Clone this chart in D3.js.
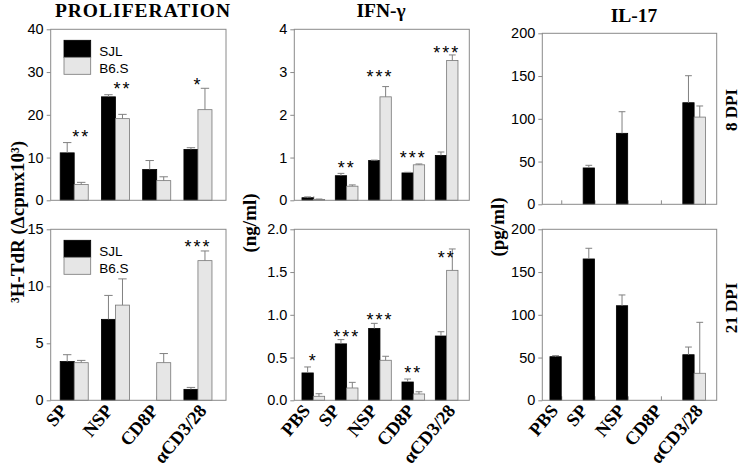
<!DOCTYPE html>
<html><head><meta charset="utf-8">
<script src="https://cdn.jsdelivr.net/npm/d3@7"></script>
<style>body{margin:0;background:#fff} svg{display:block}</style>
</head><body><svg id="c" width="742" height="471"></svg>
<script>
// ---------- data ----------
const seriesNames = ["SJL", "B6.S"];
const prolifCats = ["SP", "NSP", "CD8P", "αCD3/28"];
const cytoCats = ["PBS", "SP", "NSP", "CD8P", "αCD3/28"];

// Proliferation (Δcpm x10^3)
const prolif8SJL = [11.1, 24.2, 7.2, 11.9];
const prolif8SJLErr = [2.4, 0.5, 2.1, 0.4];
const prolif8B6S = [3.7, 19.1, 4.6, 21.2];
const prolif8B6SErr = [0.5, 1.0, 0.9, 5.0];
const prolif21SJL = [3.4, 7.1, null, 0.96];
const prolif21SJLErr = [0.6, 2.1, 0, 0.17];
const prolif21B6S = [3.3, 8.35, 3.3, 12.25];
const prolif21B6SErr = [0.2, 2.3, 0.8, 0.85];

// IFN-gamma (ng/ml)
const ifn8SJL = [0.06, 0.575, 0.93, 0.64, 1.05];
const ifn8SJLErr = [0.02, 0.055, 0.01, 0.015, 0.08];
const ifn8B6S = [0.02, 0.33, 2.42, 0.83, 3.27];
const ifn8B6SErr = [0.01, 0.03, 0.24, 0.02, 0.13];
const ifn21SJL = [0.32, 0.66, 0.84, 0.214, 0.752];
const ifn21SJLErr = [0.07, 0.05, 0.06, 0.035, 0.05];
const ifn21B6S = [0.047, 0.144, 0.468, 0.074, 1.52];
const ifn21B6SErr = [0.03, 0.066, 0.047, 0.026, 0.25];

// IL-17 (pg/ml)
const il17d8SJL = [null, 42.5, 83, null, 118.8];
const il17d8SJLErr = [0, 3.1, 25.3, 0, 31.6];
const il17d8B6S = [null, null, null, null, 102];
const il17d8B6SErr = [0, 0, 0, 0, 13];
const il17d21SJL = [51, 165.3, 110.6, null, 53.3];
const il17d21SJLErr = [1.2, 12.5, 12.6, 0, 9];
const il17d21B6S = [null, null, null, null, 31.6];
const il17d21B6SErr = [0, 0, 0, 0, 59.6];

// tick values
const prolif8Ticks = [0, 10, 20, 30, 40];
const prolif21Ticks = [0, 5, 10, 15];
const ifn8Ticks = [0, 1, 2, 3, 4];
const ifn21Ticks = [0, 0.5, 1.0, 1.5, 2.0];
const il17Ticks = [0, 50, 100, 150, 200];

// significance stars (level = data value of the star baseline)
const prolif8Stars = [
  {cat: "SP", label: "**", level: 13.4, over: "B6.S"},
  {cat: "NSP", label: "**", level: 24.6, over: "B6.S"},
  {cat: "αCD3/28", label: "*", level: 25.6, over: "pair"}];
const prolif21Stars = [{cat: "αCD3/28", label: "***", level: 12.9, over: "pair"}];
const ifn8Stars = [
  {cat: "SP", label: "**", level: 0.615, over: "pair"},
  {cat: "NSP", label: "***", level: 2.74, over: "pair"},
  {cat: "CD8P", label: "***", level: 0.85, over: "pair"},
  {cat: "αCD3/28", label: "***", level: 3.30, over: "pair"}];
const ifn21Stars = [
  {cat: "PBS", label: "*", level: 0.393, over: "pair"},
  {cat: "SP", label: "***", level: 0.674, over: "pair"},
  {cat: "NSP", label: "***", level: 0.869, over: "pair"},
  {cat: "CD8P", label: "**", level: 0.253, over: "pair"},
  {cat: "αCD3/28", label: "**", level: 1.60, over: "pair"}];

// ---------- drawing ----------
const svg = d3.select("#c");
const SERIF = "'Times New Roman','Liberation Serif',serif";
const SANS = "Arial,'Liberation Sans',sans-serif";
const FRAME = "#8a8a8a";
const GREYFILL = "#e6e6e6";
const ANG = 50 * Math.PI / 180;

const panels = [
  {cats: prolifCats, s: [prolif8SJL, prolif8B6S], e: [prolif8SJLErr, prolif8B6SErr], ticks: prolif8Ticks, fmt: d3.format("d"), stars: prolif8Stars, legend: true, box: [50.7, 226, 29.3, 200.3], xlabels: false},
  {cats: cytoCats, s: [ifn8SJL, ifn8B6S], e: [ifn8SJLErr, ifn8B6SErr], ticks: ifn8Ticks, fmt: d3.format("d"), stars: ifn8Stars, legend: false, box: [294.3, 469.3, 29.3, 200.3], xlabels: false},
  {cats: cytoCats, s: [il17d8SJL, il17d8B6S], e: [il17d8SJLErr, il17d8B6SErr], ticks: il17Ticks, fmt: d3.format("d"), stars: [], legend: false, box: [542.3, 716.7, 33.3, 204.3], xlabels: false},
  {cats: prolifCats, s: [prolif21SJL, prolif21B6S], e: [prolif21SJLErr, prolif21B6SErr], ticks: prolif21Ticks, fmt: d3.format("d"), stars: prolif21Stars, legend: true, box: [50.7, 226, 229.3, 400.3], xlabels: true},
  {cats: cytoCats, s: [ifn21SJL, ifn21B6S], e: [ifn21SJLErr, ifn21B6SErr], ticks: ifn21Ticks, fmt: d3.format(".1f"), stars: ifn21Stars, legend: false, box: [294.3, 469.3, 229.3, 400.3], xlabels: true},
  {cats: cytoCats, s: [il17d21SJL, il17d21B6S], e: [il17d21SJLErr, il17d21B6SErr], ticks: il17Ticks, fmt: d3.format("d"), stars: [], legend: false, box: [542.3, 716.7, 229.3, 400.3], xlabels: true}
];

panels.forEach(p => {
  const [x0, x1, y0, y1] = p.box;
  const n = p.cats.length;
  const x = d3.scaleLinear().domain([-0.57, n - 1 + 0.68]).range([x0, x1]);
  const y = d3.scaleLinear().domain([0, p.ticks[p.ticks.length - 1]]).range([y1, y0]);
  const bw = (x(1) - x(0)) * 0.34;
  const g = svg.append("g");

  // y axis
  const ya = g.append("g").attr("transform", `translate(${x0},0)`)
    .call(d3.axisLeft(y).tickValues(p.ticks).tickSize(4).tickPadding(3).tickFormat(p.fmt));
  ya.select(".domain").remove();
  ya.selectAll("line").attr("stroke", FRAME);
  ya.selectAll("text").attr("font-family", SANS).attr("font-size", 14.5).attr("fill", "#000");

  // x axis (inward ticks at category centres)
  const xa = g.append("g").attr("transform", `translate(0,${y1})`)
    .call(d3.axisBottom(x).tickValues(d3.range(n)).tickSize(-4).tickFormat(""));
  xa.select(".domain").remove();
  xa.selectAll("line").attr("stroke", FRAME);

  // bars
  const rows = [];
  p.cats.forEach((c, i) => {
    [0, 1].forEach(k => {
      const v = p.s[k][i];
      if (v !== null && v !== undefined) rows.push({i, k, v, err: p.e[k][i]});
    });
  });
  g.selectAll("rect.bar").data(rows).join("rect")
    .attr("x", d => d.k === 0 ? x(d.i) - bw : x(d.i))
    .attr("y", d => y(d.v))
    .attr("width", bw)
    .attr("height", d => y(0) - y(d.v))
    .attr("fill", d => d.k === 0 ? "#000" : GREYFILL)
    .attr("stroke", d => d.k === 0 ? "#000" : "#777")
    .attr("stroke-width", 0.8);

  // error bars (upper only)
  const eb = rows.filter(d => d.err > 0);
  const cx = d => d.k === 0 ? x(d.i) - bw / 2 : x(d.i) + bw / 2;
  g.selectAll("line.ev").data(eb).join("line")
    .attr("x1", cx).attr("x2", cx)
    .attr("y1", d => y(d.v)).attr("y2", d => y(d.v + d.err))
    .attr("stroke", "#808080").attr("stroke-width", 1);
  g.selectAll("line.ec").data(eb).join("line")
    .attr("x1", d => cx(d) - bw * 0.3).attr("x2", d => cx(d) + bw * 0.3)
    .attr("y1", d => y(d.v + d.err)).attr("y2", d => y(d.v + d.err))
    .attr("stroke", "#808080").attr("stroke-width", 1);

  // stars
  g.selectAll("text.star").data(p.stars).join("text")
    .attr("x", d => {
      const i = p.cats.indexOf(d.cat);
      return d.over === "B6.S" ? x(i) + bw / 2 : x(i);
    })
    .attr("y", d => y(d.level))
    .attr("text-anchor", "middle")
    .attr("font-family", SANS).attr("font-size", 18)
    .attr("letter-spacing", 2)
    .text(d => d.label);

  // frame
  g.append("rect").attr("x", x0).attr("y", y0).attr("width", x1 - x0).attr("height", y1 - y0)
    .attr("fill", "none").attr("stroke", FRAME).attr("stroke-width", 1);

  // legend
  if (p.legend) {
    const lx = x0 + 13.3, ly = y0 + 11, lw = 26.7, lh = 17;
    const lg = g.append("g");
    seriesNames.forEach((s, k) => {
      lg.append("rect").attr("x", lx).attr("y", ly + k * lh).attr("width", lw).attr("height", lh)
        .attr("fill", k === 0 ? "#000" : GREYFILL).attr("stroke", k === 0 ? "#000" : "#777").attr("stroke-width", 0.8);
      lg.append("text").attr("x", lx + lw + 8.6).attr("y", ly + k * lh + 15.5)
        .attr("font-family", SANS).attr("font-size", 13.5).text(s);
    });
  }

  // x labels: rotated, centred, top of rotated box just under the axis
  if (p.xlabels) {
    const fs = 18.5, cap = fs * 0.66;
    g.selectAll("text.xl").data(p.cats).join("text")
      .attr("text-anchor", "middle")
      .attr("font-family", SERIF).attr("font-weight", "bold").attr("font-size", fs)
      .text(d => d)
      .attr("transform", function(d, i) {
        const L = this.getComputedTextLength();
        const cxl = x(i) - 13;
        const cyl = y1 + 3 + (L / 2) * Math.sin(ANG) + cap * Math.cos(ANG);
        return `translate(${cxl},${cyl}) rotate(-50)`;
      });
  }
});

// titles
const titles = [["PROLIFERATION", 143, 17, 1], ["IFN-γ", 381, 17, 0], ["IL-17", 634, 22, 0]];
titles.forEach(([t, tx, ty, ls]) => {
  svg.append("text").attr("x", tx).attr("y", ty).attr("text-anchor", "middle")
    .attr("font-family", SERIF).attr("font-weight", "bold").attr("font-size", 19.5)
    .attr("letter-spacing", ls).text(t);
});

// y-axis labels
function vlabel(t, tx, ty, fs) {
  return svg.append("text").attr("transform", `translate(${tx},${ty}) rotate(-90)`)
    .attr("text-anchor", "middle").attr("font-family", SERIF).attr("font-weight", "bold")
    .attr("font-size", fs).text(t);
}
vlabel("³H-TdR (Δcpmx10³)", 23.5, 222, 19);
vlabel("(ng/ml)", 256, 223, 19);
vlabel("(pg/ml)", 504, 227, 19);
vlabel("8 DPI", 737, 110, 17);
vlabel("21 DPI", 737, 308, 17);
</script>
</body></html>
